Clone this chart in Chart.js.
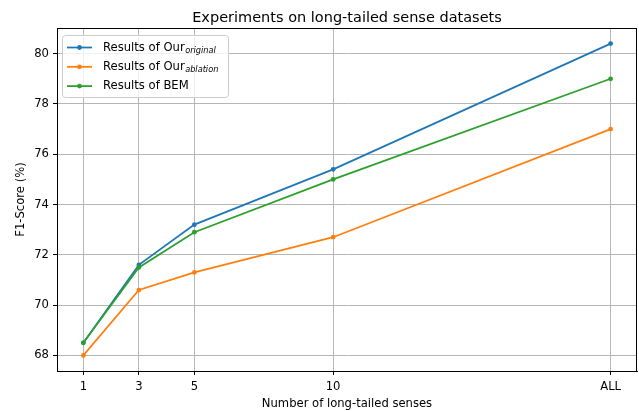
<!DOCTYPE html>
<html>
<head>
<meta charset="utf-8">
<script src="https://cdn.jsdelivr.net/npm/chart.js@4"></script>
<style>
  html, body { margin: 0; padding: 0; background: #fff; overflow: hidden; }
  canvas { display: block; }
</style>
</head>
<body>
<!-- canvas 2px wider than the window: the extra room takes Chart.js' point overflow padding -->
<canvas id="chart" width="641" height="411"></canvas>
<script>
// x positions (ALL placed at 20 like the original plot)
const senses = [1, 3, 5, 10, 20];
const senseLabels = ["1", "3", "5", "10", "ALL"];
const yTicks = [68, 70, 72, 74, 76, 78, 80];

const ourOriginal = [68.5, 71.6, 73.2, 75.4, 80.4];
const ourAblation = [68.0, 70.6, 71.3, 72.7, 77.0];
const bem = [68.5, 71.5, 72.9, 75.0, 79.0];

const FONT = "DejaVu Sans";
const blue = "#1f77b4", orange = "#ff7f0e", green = "#2ca02c";

function pts(vals) {
  return vals.map((v, i) => ({ x: senses[i], y: v }));
}

function makeSet(vals, color, order) {
  return {
    data: pts(vals),
    borderColor: color,
    backgroundColor: color,
    borderWidth: 1.75,
    pointRadius: 2.4,
    pointBorderWidth: 0,
    pointBackgroundColor: color,
    tension: 0,
    order: order,
  };
}

// legend entries (main text + subscript)
const legendItems = [
  { text: "Results of Our", sub: "original", color: blue },
  { text: "Results of Our", sub: "ablation", color: orange },
  { text: "Results of BEM", sub: "", color: green },
];

// spines on all four sides, like matplotlib
const framePlugin = {
  id: "frame",
  afterDatasetsDraw(chart) {
    const a = chart.chartArea;
    const ctx = chart.ctx;
    ctx.save();
    ctx.strokeStyle = "#000";
    ctx.lineWidth = 1;
    ctx.strokeRect(Math.round(a.left) + 0.5, Math.round(a.top) + 0.5,
      Math.round(a.right - a.left) - 1, Math.round(a.bottom - a.top));
    ctx.restore();
  },
};

// legend box in the upper left of the plot
const legendPlugin = {
  id: "mplLegend",
  afterDraw(chart) {
    const a = chart.chartArea;
    const ctx = chart.ctx;
    const x0 = a.left + 5, y0 = a.top + 7, w = 166, h = 62;
    ctx.save();
    ctx.fillStyle = "rgba(255,255,255,0.8)";
    ctx.strokeStyle = "#cccccc";
    ctx.lineWidth = 1;
    ctx.beginPath();
    ctx.roundRect(x0 + 0.5, y0 + 0.5, w, h, 3);
    ctx.fill();
    ctx.stroke();

    legendItems.forEach((it, i) => {
      const y = y0 + 12.5 + i * 19.3;
      ctx.strokeStyle = it.color;
      ctx.lineWidth = 1.75;
      ctx.beginPath();
      ctx.moveTo(x0 + 5, y);
      ctx.lineTo(x0 + 30, y);
      ctx.stroke();
      ctx.fillStyle = it.color;
      ctx.beginPath();
      ctx.arc(x0 + 17.5, y, 2.4, 0, Math.PI * 2);
      ctx.fill();

      ctx.fillStyle = "#000";
      ctx.textBaseline = "middle";
      ctx.textAlign = "left";
      ctx.font = "11.6px '" + FONT + "'";
      ctx.fillText(it.text, x0 + 41, y);
      if (it.sub) {
        const tw = ctx.measureText(it.text).width;
        ctx.font = "italic 8.2px '" + FONT + "'";
        ctx.fillText(it.sub, x0 + 41 + tw + 0.5, y + 3);
      }
    });
    ctx.restore();
  },
};

const gridStyle = {
  color: "#b0b0b0",
  lineWidth: 0.93,
  tickColor: "#000",
  tickLength: 4,
  tickWidth: 1,
};

new Chart(document.getElementById("chart"), {
  type: "line",
  data: {
    datasets: [
      makeSet(ourOriginal, blue, 2),
      makeSet(ourAblation, orange, 1),
      makeSet(bem, green, 0),
    ],
  },
  options: {
    responsive: false,
    animation: false,
    devicePixelRatio: 1,
    layout: { padding: 0 },
    plugins: {
      legend: { display: false },
      tooltip: { enabled: false },
      title: {
        display: true,
        fullSize: false, // center over the plot area
        text: "Experiments on long-tailed sense datasets",
        color: "#000",
        font: { family: FONT, size: 14.5, weight: "normal", lineHeight: 1 },
        padding: { top: 10.5, bottom: 3 },
      },
    },
    scales: {
      x: {
        type: "linear",
        min: 0.05,
        max: 20.95,
        grid: gridStyle,
        border: { color: "#000", width: 1 },
        afterBuildTicks(scale) {
          scale.ticks = senses.map((v) => ({ value: v }));
        },
        afterFit(scale) {
          scale.height = 40;
        },
        ticks: {
          color: "#000",
          padding: 5,
          maxRotation: 0,
          font: { family: FONT, size: 11.6 },
          callback: (v) => senseLabels[senses.indexOf(v)],
        },
        title: {
          display: true,
          text: "Number of long-tailed senses",
          color: "#000",
          font: { family: FONT, size: 11.6, lineHeight: 1.2 },
          padding: { top: 0, bottom: 0 },
        },
      },
      y: {
        type: "linear",
        min: 67.38,
        max: 81.02,
        grid: gridStyle,
        border: { color: "#000", width: 1 },
        afterBuildTicks(scale) {
          scale.ticks = yTicks.map((v) => ({ value: v }));
        },
        afterFit(scale) {
          scale.width = 57;
        },
        ticks: {
          color: "#000",
          padding: 4,
          font: { family: FONT, size: 11.6 },
        },
        title: {
          display: true,
          text: "F1-Score (%)",
          color: "#000",
          font: { family: FONT, size: 11.6, lineHeight: 1.2 },
          padding: { top: 14, bottom: 0 },
        },
      },
    },
  },
  plugins: [framePlugin, legendPlugin],
});
</script>
</body>
</html>
